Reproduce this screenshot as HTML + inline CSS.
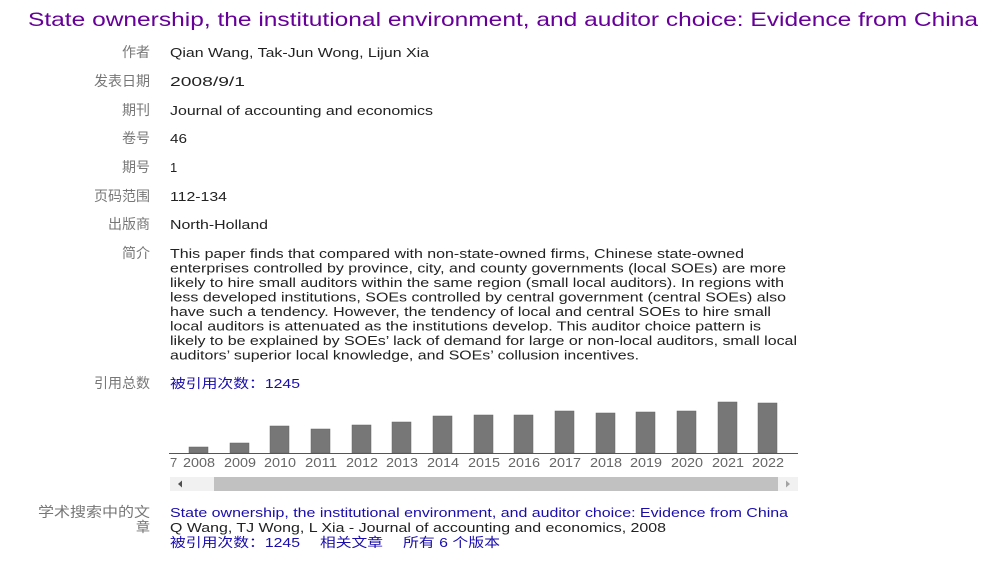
<!DOCTYPE html>
<html><head><meta charset="utf-8"><style>
html,body{margin:0;padding:0;background:#fff;width:1000px;height:563px;overflow:hidden}
svg{display:block}
text{font-family:"Liberation Sans","Noto Sans CJK SC",sans-serif;font-size:13px}
.l{fill:#777;text-anchor:end;font-size:14px}
.v{fill:#222}
.b{fill:#1a0dab}
.y{fill:#666;text-anchor:middle;font-size:13px}
</style></head><body>
<svg width="1000" height="563" xmlns="http://www.w3.org/2000/svg">
<text x="28" y="26" style="font-size:19.5px;fill:#660099" textLength="950" lengthAdjust="spacingAndGlyphs">State ownership, the institutional environment, and auditor choice: Evidence from China</text>
<text class="l" x="150" y="57">作者</text>
<text class="v" x="170" y="57" textLength="259" lengthAdjust="spacingAndGlyphs">Qian Wang, Tak-Jun Wong, Lijun Xia</text>
<text class="l" x="150" y="86">发表日期</text>
<text class="v" x="170" y="86" textLength="75" lengthAdjust="spacingAndGlyphs">2008/9/1</text>
<text class="l" x="150" y="115">期刊</text>
<text class="v" x="170" y="115" textLength="263" lengthAdjust="spacingAndGlyphs">Journal of accounting and economics</text>
<text class="l" x="150" y="143">卷号</text>
<text class="v" x="170" y="143" textLength="17" lengthAdjust="spacingAndGlyphs">46</text>
<text class="l" x="150" y="172">期号</text>
<text class="v" x="170" y="172">1</text>
<text class="l" x="150" y="201">页码范围</text>
<text class="v" x="170" y="201" textLength="57" lengthAdjust="spacingAndGlyphs">112-134</text>
<text class="l" x="150" y="229">出版商</text>
<text class="v" x="170" y="229" textLength="98" lengthAdjust="spacingAndGlyphs">North-Holland</text>
<text class="l" x="150" y="258">简介</text>
<text class="v" x="170" y="258" textLength="574" lengthAdjust="spacingAndGlyphs">This paper finds that compared with non-state-owned firms, Chinese state-owned</text>
<text class="v" x="170" y="272.5" textLength="616" lengthAdjust="spacingAndGlyphs">enterprises controlled by province, city, and county governments (local SOEs) are more</text>
<text class="v" x="170" y="287" textLength="614" lengthAdjust="spacingAndGlyphs">likely to hire small auditors within the same region (small local auditors). In regions with</text>
<text class="v" x="170" y="301.5" textLength="616" lengthAdjust="spacingAndGlyphs">less developed institutions, SOEs controlled by central government (central SOEs) also</text>
<text class="v" x="170" y="316" textLength="601" lengthAdjust="spacingAndGlyphs">have such a tendency. However, the tendency of local and central SOEs to hire small</text>
<text class="v" x="170" y="330.5" textLength="591" lengthAdjust="spacingAndGlyphs">local auditors is attenuated as the institutions develop. This auditor choice pattern is</text>
<text class="v" x="170" y="345" textLength="627" lengthAdjust="spacingAndGlyphs">likely to be explained by SOEs’ lack of demand for large or non-local auditors, small local</text>
<text class="v" x="170" y="359.5" textLength="469" lengthAdjust="spacingAndGlyphs">auditors’ superior local knowledge, and SOEs’ collusion incentives.</text>
<text class="l" x="150" y="388">引用总数</text>
<text class="b" x="170" y="388" textLength="130" lengthAdjust="spacingAndGlyphs">被引用次数：1245</text>
<g fill="#777" stroke="#666" stroke-width="0.5">
<rect x="189" y="447" width="19" height="6"/>
<rect x="230" y="443" width="19" height="10"/>
<rect x="270" y="426" width="19" height="27"/>
<rect x="311" y="429" width="19" height="24"/>
<rect x="352" y="425" width="19" height="28"/>
<rect x="392" y="422" width="19" height="31"/>
<rect x="433" y="416" width="19" height="37"/>
<rect x="474" y="415" width="19" height="38"/>
<rect x="514" y="415" width="19" height="38"/>
<rect x="555" y="411" width="19" height="42"/>
<rect x="596" y="413" width="19" height="40"/>
<rect x="636" y="412" width="19" height="41"/>
<rect x="677" y="411" width="19" height="42"/>
<rect x="718" y="402" width="19" height="51"/>
<rect x="758" y="403" width="19" height="50"/>
</g>
<line x1="169" y1="453.5" x2="798" y2="453.5" stroke="#555" stroke-width="1"/>
<text class="y" x="170" y="467" style="text-anchor:start">7</text>
<text class="y" x="199" y="467" textLength="32" lengthAdjust="spacingAndGlyphs">2008</text>
<text class="y" x="240" y="467" textLength="32" lengthAdjust="spacingAndGlyphs">2009</text>
<text class="y" x="280" y="467" textLength="32" lengthAdjust="spacingAndGlyphs">2010</text>
<text class="y" x="321" y="467" textLength="32" lengthAdjust="spacingAndGlyphs">2011</text>
<text class="y" x="362" y="467" textLength="32" lengthAdjust="spacingAndGlyphs">2012</text>
<text class="y" x="402" y="467" textLength="32" lengthAdjust="spacingAndGlyphs">2013</text>
<text class="y" x="443" y="467" textLength="32" lengthAdjust="spacingAndGlyphs">2014</text>
<text class="y" x="484" y="467" textLength="32" lengthAdjust="spacingAndGlyphs">2015</text>
<text class="y" x="524" y="467" textLength="32" lengthAdjust="spacingAndGlyphs">2016</text>
<text class="y" x="565" y="467" textLength="32" lengthAdjust="spacingAndGlyphs">2017</text>
<text class="y" x="606" y="467" textLength="32" lengthAdjust="spacingAndGlyphs">2018</text>
<text class="y" x="646" y="467" textLength="32" lengthAdjust="spacingAndGlyphs">2019</text>
<text class="y" x="687" y="467" textLength="32" lengthAdjust="spacingAndGlyphs">2020</text>
<text class="y" x="728" y="467" textLength="32" lengthAdjust="spacingAndGlyphs">2021</text>
<text class="y" x="768" y="467" textLength="32" lengthAdjust="spacingAndGlyphs">2022</text>
<rect x="170" y="477" width="628" height="14" fill="#f1f1f1"/>
<rect x="214" y="477" width="564" height="14" fill="#c1c1c1"/>
<polygon points="178,484 182,480.5 182,487.5" fill="#505050"/>
<polygon points="790,484 786,480.5 786,487.5" fill="#a3a3a3"/>
<text class="l" x="150" y="517" textLength="112" lengthAdjust="spacingAndGlyphs">学术搜索中的文</text>
<text class="l" x="150" y="532">章</text>
<text class="b" x="170" y="517" textLength="618" lengthAdjust="spacingAndGlyphs">State ownership, the institutional environment, and auditor choice: Evidence from China</text>
<text class="v" x="170" y="532" textLength="496" lengthAdjust="spacingAndGlyphs">Q Wang, TJ Wong, L Xia - Journal of accounting and economics, 2008</text>
<text class="b" x="170" y="547" textLength="130" lengthAdjust="spacingAndGlyphs">被引用次数：1245</text>
<text class="b" x="320" y="547" textLength="63" lengthAdjust="spacingAndGlyphs">相关文章</text>
<text class="b" x="403" y="547" textLength="97" lengthAdjust="spacingAndGlyphs">所有 6 个版本</text>
</svg>
</body></html>
